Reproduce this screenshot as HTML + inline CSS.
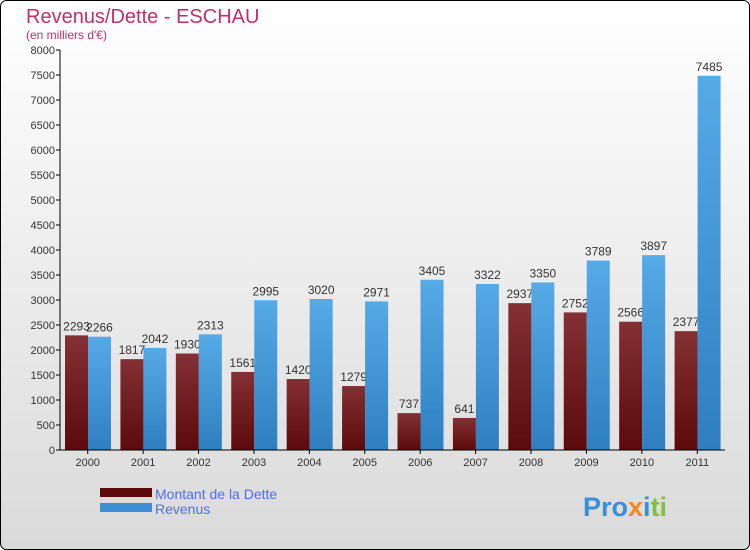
<!DOCTYPE html>
<html><head><meta charset="utf-8"><style>
body{margin:0}
svg{display:block;font-family:"Liberation Sans",sans-serif}
</style></head><body>
<svg width="750" height="550" id="c">
<defs>
<linearGradient id="bg" x1="0" y1="0" x2="0" y2="1"><stop offset="0" stop-color="#ffffff"/><stop offset="1" stop-color="#dadada"/></linearGradient>
<linearGradient id="gd" x1="0" y1="0" x2="0" y2="1"><stop offset="0" stop-color="#843034"/><stop offset="1" stop-color="#5c0a0c"/></linearGradient>
<linearGradient id="gr" x1="0" y1="0" x2="0" y2="1"><stop offset="0" stop-color="#56aae6"/><stop offset="1" stop-color="#2f7fc0"/></linearGradient>
</defs>
<rect x="0.5" y="0.5" width="749" height="549" rx="6" fill="url(#bg)" stroke="#000"/>
<text x="26" y="23" font-size="20" fill="#c0306a">Revenus/Dette - ESCHAU</text>
<text x="26" y="39" font-size="12" fill="#c0306a">(en milliers d'€)</text>
<g id="plot"></g>
<rect x="100" y="488" width="52" height="9" fill="#5c0a0c"/>
<text x="155" y="499" font-size="14" fill="#4f6fe6">Montant de la Dette</text>
<rect x="100" y="503" width="52" height="9" fill="#3d8fd6"/>
<text x="155" y="514" font-size="14" fill="#4f6fe6">Revenus</text>
<text x="583" y="516" font-size="27" font-weight="bold"><tspan fill="#3a8fd8">Pro</tspan><tspan fill="#f08a20">x</tspan><tspan fill="#3a8fd8">i</tspan><tspan fill="#80c040">ti</tspan></text>
</svg>
<script>
const years=["2000","2001","2002","2003","2004","2005","2006","2007","2008","2009","2010","2011"];
const dette=[2293,1817,1930,1561,1420,1279,737,641,2937,2752,2566,2377];
const revenus=[2266,2042,2313,2995,3020,2971,3405,3322,3350,3789,3897,7485];
const yTicks=[0,500,1000,1500,2000,2500,3000,3500,4000,4500,5000,5500,6000,6500,7000,7500,8000];
const NS="http://www.w3.org/2000/svg";
const g=document.getElementById('plot');
const x0=60,x1=725,y0=450,y1=50,yMax=8000;
const gw=(x1-x0)/years.length;
const y=v=>y0-(v/yMax)*(y0-y1);
function el(t,a,txt){const e=document.createElementNS(NS,t);for(const k in a)e.setAttribute(k,a[k]);if(txt!==undefined)e.textContent=txt;g.appendChild(e);return e;}
yTicks.forEach(v=>{
 const t=el('line',{x1:x0-4,x2:x0,y1:y(v),y2:y(v),stroke:'#000'});
 
 
 const l=el('text',{x:x0-5,y:y(v)+4,'font-size':11,'text-anchor':'end',fill:'#333'},v);
 
 
});
years.forEach((yr,i)=>{
 const gx=x0+i*gw;
 const bd=el('rect',{x:gx+5,y:y(dette[i]),width:23,height:y0-y(dette[i]),fill:'url(#gd)'});
 
 
 const ld=el('text',{x:gx+16.5,y:y(dette[i])-5,'font-size':12,'text-anchor':'middle',fill:'#333'},dette[i]);
 
 
 const br=el('rect',{x:gx+28,y:y(revenus[i]),width:23,height:y0-y(revenus[i]),fill:'url(#gr)'});
 
 
 const lr=el('text',{x:gx+39.5,y:y(revenus[i])-5,'font-size':12,'text-anchor':'middle',fill:'#333'},revenus[i]);
 
 
 const tk=el('line',{x1:gx+gw/2,x2:gx+gw/2,y1:y0,y2:y0+4,stroke:'#000'});
 
 
 const xl=el('text',{x:gx+gw/2,y:y0+16,'font-size':11,'text-anchor':'middle',fill:'#333'},yr);
 
 
});
const ya=el('line',{x1:x0,x2:x0,y1:y1,y2:y0,stroke:'#000'});


const xa=el('line',{x1:x0,x2:x1,y1:y0,y2:y0,stroke:'#000'});


</script>
</body></html>
